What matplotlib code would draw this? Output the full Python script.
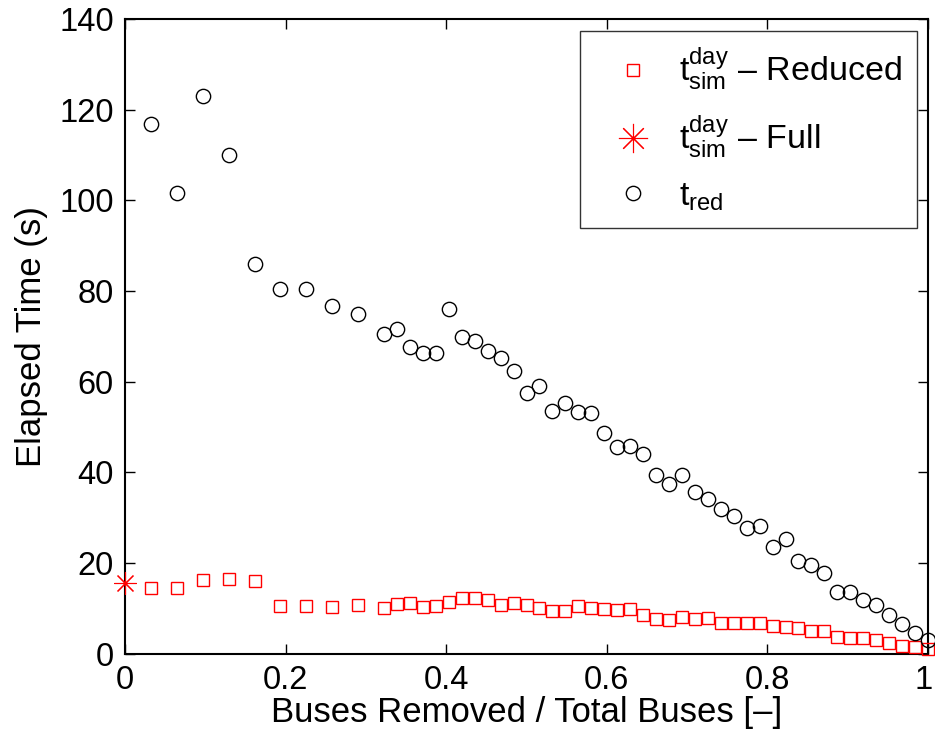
import numpy as np
import matplotlib
matplotlib.use("Agg")
import matplotlib.pyplot as plt
from matplotlib.transforms import ScaledTranslation

plt.rcParams["font.family"] = ["Liberation Sans", "DejaVu Sans"]
plt.rcParams["mathtext.fontset"] = "custom"
plt.rcParams["mathtext.rm"] = "Liberation Sans"
plt.rcParams["mathtext.it"] = "Liberation Sans"

total_buses = 62
buses_removed = [2, 4, 6, 8, 10, 12, 14, 16, 18, 20,
                 21, 22, 23, 24, 25, 26, 27, 28, 29, 30,
                 31, 32, 33, 34, 35, 36, 37, 38, 39, 40,
                 41, 42, 43, 44, 45, 46, 47, 48, 49, 50,
                 51, 52, 53, 54, 55, 56, 57, 58, 59, 60,
                 61, 62]

# reduction time (s)
t_red = [116.9, 101.7, 123.0, 110.1, 86.0, 80.4, 80.5, 76.7, 75.0, 70.6,
         71.5, 67.7, 66.2, 66.3, 76.0, 69.8, 68.9, 66.7, 65.3, 62.3,
         57.5, 59.1, 53.5, 55.2, 53.3, 53.0, 48.7, 45.5, 45.8, 44.0,
         39.4, 37.4, 39.4, 35.7, 34.1, 31.8, 30.3, 27.7, 28.1, 23.4,
         25.2, 20.5, 19.6, 17.7, 13.6, 13.5, 11.8, 10.6, 8.4, 6.5,
         4.6, 3.0]

# daily simulation time on the reduced networks (s)
t_sim_reduced = [14.4, 14.5, 16.2, 16.4, 15.9, 10.4, 10.5, 10.3, 10.8, 10.1,
                 10.9, 11.2, 10.3, 10.4, 11.4, 12.3, 12.3, 11.8, 10.7, 11.2,
                 10.7, 10.0, 9.4, 9.4, 10.5, 10.0, 9.8, 9.7, 9.9, 8.4,
                 7.7, 7.5, 8.1, 7.6, 7.8, 6.8, 6.8, 6.8, 6.8, 6.1,
                 5.8, 5.6, 5.0, 5.0, 3.6, 3.5, 3.4, 2.9, 2.4, 1.7,
                 1.4, 0.9]

# daily simulation time on the full network (s)
x_full = [0.0]
t_sim_full = [15.6]

x = np.array(buses_removed) / total_buses

fig = plt.figure(figsize=(9.35, 7.4), dpi=100)
ax = fig.add_axes([125 / 935, 1 - 653.5 / 740, 803 / 935, 634.5 / 740])

ax.plot(x, t_sim_reduced, linestyle="none", marker="s", markersize=8.9,
        markerfacecolor="none", markeredgecolor="red", markeredgewidth=1.0,
        clip_on=False, zorder=3,
        label=r"$\mathrm{t}_{\mathrm{sim}}^{\mathrm{day}}$ – Reduced")
ax.plot(x_full, t_sim_full, linestyle="none", marker=(8, 2, 0), markersize=16,
        color="red", markeredgewidth=0.8, clip_on=False, zorder=4,
        label=r"$\mathrm{t}_{\mathrm{sim}}^{\mathrm{day}}$ – Full")
ax.plot(x, t_red, linestyle="none", marker="o", markersize=10.3,
        markerfacecolor="none", markeredgecolor="black", markeredgewidth=1.0,
        clip_on=False, zorder=3,
        label=r"$\mathrm{t}_{\mathrm{red}}$")

ax.set_xlim(0, 1)
ax.set_ylim(0, 140)
ax.set_xticks([0, 0.2, 0.4, 0.6, 0.8, 1])
ax.set_xticklabels(["0", "0.2", "0.4", "0.6", "0.8", "1"])
ax.set_yticks(range(0, 141, 20))
ax.tick_params(direction="in", length=7, width=1, top=True, right=True,
               labelsize=23.5, pad=8)
for s in ax.spines.values():
    s.set_linewidth(1.5)

# nudge the last x tick label so it stays inside the figure
last = ax.get_xticklabels()[-1]
last.set_transform(last.get_transform() + ScaledTranslation(-4 / 100, 0, fig.dpi_scale_trans))

ax.set_xlabel("Buses Removed / Total Buses [–]", fontsize=25, labelpad=0)
ax.set_ylabel("Elapsed Time (s)", fontsize=25, labelpad=8)

leg = ax.legend(loc="upper right", bbox_to_anchor=(917 / 935, 1 - 30.7 / 740),
                bbox_transform=fig.transFigure, borderaxespad=0, fontsize=24.5,
                frameon=True, fancybox=False, edgecolor="black",
                handlelength=2.2, handletextpad=0.25, labelspacing=0.6,
                borderpad=0.45, numpoints=1)
leg.get_frame().set_linewidth(1.0)
leg.legend_handles[1].set_markersize(21)

fig.savefig("out.png", dpi=100)
